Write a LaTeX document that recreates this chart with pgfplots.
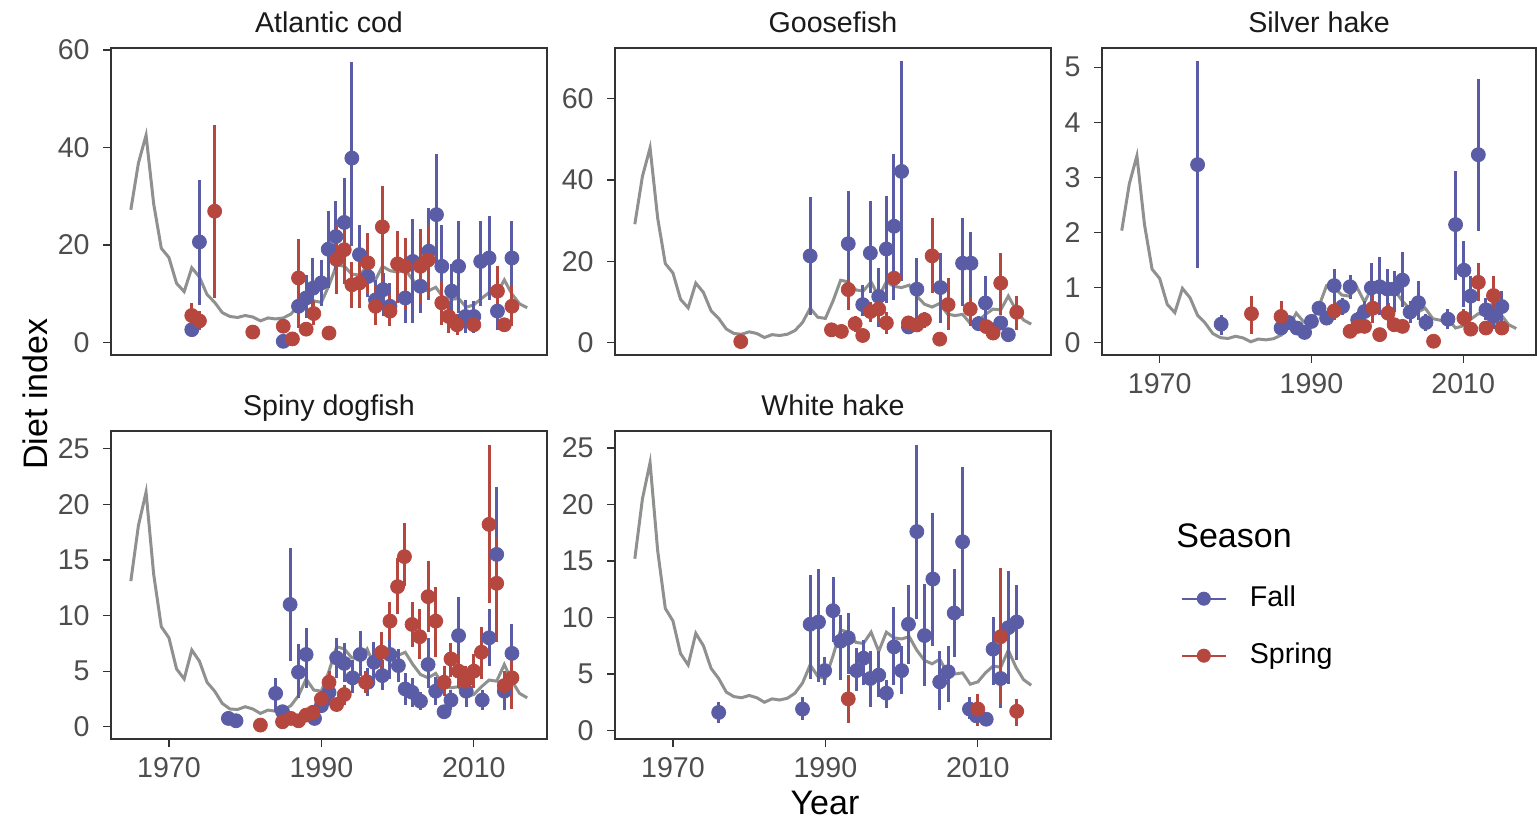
\documentclass[border=0pt]{standalone}
\usepackage{fontspec}
\setmainfont{Liberation Sans}
\usepackage{pgfplots}
\usepackage{pgfplotstable}
\pgfplotsset{compat=1.18}
\definecolor{blueC}{HTML}{5A5DA5}
\definecolor{redC}{HTML}{B5473F}
\definecolor{grayC}{HTML}{8E918E}
\definecolor{frameC}{HTML}{333333}
\definecolor{tickC}{HTML}{4D4D4D}
\definecolor{stripC}{HTML}{1A1A1A}

\pgfplotstableread{
year cod goose silver dog white
1965 27.2 29.1 2.03 13.1 15.2
1966 36.8 40.9 2.88 18.1 20.5
1967 42.5 47.9 3.39 21.1 23.7
1968 28.4 30.6 2.14 13.7 15.9
1969 19.3 19.4 1.33 9.0 10.8
1970 17.4 17.1 1.16 8.0 9.7
1971 12.1 10.6 0.69 5.2 6.8
1972 10.4 8.5 0.54 4.3 5.8
1973 15.3 14.6 0.98 6.9 8.6
1974 13.4 12.3 0.81 5.9 7.5
1975 9.8 7.8 0.49 4.0 5.5
1976 8.2 5.9 0.35 3.2 4.6
1977 6.1 3.3 0.16 2.1 3.4
1978 5.3 2.2 0.085 1.6 3.0
1979 5.1 2.0 0.07 1.55 2.9
1980 5.5 2.6 0.11 1.8 3.1
1981 5.2 2.2 0.08 1.6 2.9
1982 4.4 1.2 0.01 1.2 2.5
1983 5.0 1.9 0.06 1.5 2.8
1984 4.8 1.7 0.045 1.4 2.7
1985 5.0 2.0 0.065 1.5 2.85
1986 5.8 2.9 0.13 1.9 3.3
1987 7.5 4.9 0.28 2.8 4.2
1988 10.3 8.4 0.53 4.3 5.8
1989 8.5 6.2 0.37 3.3 4.8
1990 8.2 5.9 0.35 3.2 4.6
1991 11.7 10.2 0.66 5.0 6.6
1992 15.9 15.3 1.03 7.2 8.9
1993 15.6 14.9 1.00 7.0 8.7
1994 14.0 12.9 0.86 6.2 7.8
1995 13.8 12.7 0.84 6.1 7.7
1996 15.6 14.9 1.00 7.0 8.7
1997 12.5 11.2 0.73 5.4 7.0
1998 15.6 14.9 1.00 7.0 8.7
1999 14.7 13.8 0.92 6.6 8.2
2000 14.4 13.5 0.90 6.4 8.1
2001 14.9 14.1 0.94 6.7 8.3
2002 12.8 11.4 0.75 5.6 7.1
2003 11.1 9.4 0.60 4.7 6.2
2004 10.5 8.7 0.55 4.4 5.9
2005 11.3 9.6 0.62 4.8 6.3
2006 9.2 7.0 0.43 3.7 5.1
2007 8.8 6.6 0.40 3.5 5.0
2008 9.0 6.9 0.42 3.6 5.1
2009 7.2 4.7 0.26 2.7 4.1
2010 7.7 5.2 0.30 2.9 4.3
2011 9.0 6.9 0.42 3.6 5.1
2012 10.2 8.2 0.52 4.2 5.7
2013 9.9 8.0 0.50 4.1 5.6
2014 12.8 11.4 0.75 5.6 7.1
2015 9.9 8.0 0.50 4.1 5.6
2016 7.9 5.5 0.32 3.0 4.5
2017 7.1 4.5 0.25 2.6 4.0
}\lineTab

% ---------- Atlantic cod ----------
\pgfplotstableread{
x y lo hi
1973.0 2.6 1.5 3.5
1974.0 20.6 7.7 33.4
1985.0 0.2 0 0.5
1987.0 7.4 2.9 13.9
1988.0 9.1 5.0 13.9
1988.9 11.1 5.3 17.3
1990.0 12.2 7.4 16.9
1990.9 19.1 11.1 26.9
1991.9 21.7 14.9 29.0
1993.0 24.6 17.0 33.7
1994.0 37.8 19.7 57.6
1995.0 18.0 11.1 24.1
1996.1 13.5 9.4 18.3
1997.1 8.7 5.3 12.8
1998.1 10.8 5.3 14.2
1999.0 7.4 3.3 12.2
2001.0 9.1 4.0 14.2
2002.0 16.6 4.0 25.3
2003.0 11.5 6.0 16.5
2004.1 18.7 8.7 27.5
2005.1 26.2 15.6 38.7
2005.8 15.6 7.0 24.0
2007.1 10.5 5.0 16.0
2008.0 15.6 6.0 24.8
2008.9 5.3 1.9 8.7
2010.0 5.3 2.0 8.5
2010.9 16.6 7.4 24.8
2012.0 17.3 8.7 26.0
2013.1 6.4 2.6 9.8
2015.0 17.3 8.7 24.8
}\codF
\pgfplotstableread{
x y lo hi
1973.0 5.5 3.3 8.1
1974.0 4.4 2.5 6.5
1976.0 26.9 9.1 44.6
1981.0 2.1 1.5 2.7
1985.0 3.3 2.0 4.5
1986.2 0.7 0.2 1.2
1987.0 13.2 2.9 21.3
1988.0 2.7 1.8 3.6
1989.0 5.9 3.5 8.5
1991.0 1.9 1.2 2.6
1992.0 17.0 10.0 24.0
1993.0 19.0 12.0 26.0
1994.0 11.8 7.0 16.5
1995.0 12.2 7.0 17.5
1996.1 16.3 10.0 22.5
1997.1 7.4 3.5 11.5
1998.0 23.7 11.5 32.0
1999.0 6.4 3.5 10.0
2000.0 16.1 8.1 22.8
2001.0 15.6 6.7 21.4
2003.0 15.6 8.1 23.2
2004.0 16.9 9.0 24.0
2005.8 8.1 3.5 12.5
2006.7 5.3 2.0 8.5
2007.8 3.6 1.5 5.8
2010.0 3.6 2.2 5.0
2013.1 10.5 5.3 15.6
2014.0 3.6 2.2 5.0
2015.0 7.4 3.3 11.5
}\codS

% ---------- Goosefish ----------
\pgfplotstableread{
x y lo hi
1988.0 21.3 6.8 35.8
1993.0 24.3 11.3 37.2
1994.9 9.3 6.4 14.2
1995.9 22.0 12.2 34.7
1997.0 11.3 3.9 18.3
1998.0 23.0 9.7 36.0
1999.0 28.6 10.5 46.4
2000.0 42.1 15.0 69.2
2000.9 3.8 2.5 5.0
2002.0 13.1 5.6 20.8
2005.1 13.5 4.8 22.0
2008.0 19.5 8.9 30.6
2009.1 19.5 7.2 27.3
2010.1 4.6 3.0 6.5
2011.0 9.7 3.9 16.3
2012.0 3.1 2.0 4.5
2013.0 4.8 3.0 6.5
2014.0 1.9 1.0 2.8
}\gooseF
\pgfplotstableread{
x y lo hi
1978.9 0.2 0 0.5
1990.8 3.1 2.0 4.3
1992.1 2.7 1.5 3.9
1993.0 13.0 8.0 15.4
1993.9 4.6 2.5 6.5
1994.9 1.7 0.8 2.6
1995.9 7.6 5.0 10.0
1997.0 8.2 5.0 11.0
1998.0 4.8 2.0 7.5
1999.0 15.8 14.0 17.5
2000.9 4.8 3.0 6.5
2002.0 4.3 2.8 5.8
2003.0 5.6 3.5 7.5
2004.0 21.3 12.2 30.6
2005.0 0.8 0.3 1.3
2006.1 9.3 3.1 15.9
2009.0 8.2 4.0 11.3
2011.1 3.9 2.5 5.3
2012.0 2.3 1.5 3.2
2013.0 14.6 6.8 22.0
2015.1 7.4 3.1 11.4
}\gooseS

% ---------- Silver hake ----------
\pgfplotstableread{
x y lo hi
1975.0 3.23 1.36 5.11
1978.1 0.33 0.14 0.50
1986.0 0.26 0.18 0.34
1987.0 0.36 0.25 0.47
1988.1 0.26 0.18 0.34
1989.1 0.18 0.12 0.24
1990.0 0.38 0.28 0.48
1991.0 0.62 0.50 0.74
1992.0 0.44 0.32 0.56
1993.0 1.03 0.72 1.33
1994.1 0.65 0.50 0.80
1995.1 1.01 0.78 1.23
1996.1 0.41 0.28 0.55
1997.0 0.56 0.35 0.75
1997.9 0.99 0.59 1.44
1999.0 1.01 0.50 1.56
2000.0 0.97 0.53 1.33
2000.9 0.97 0.55 1.30
2002.0 1.13 0.65 1.64
2003.0 0.55 0.35 0.75
2004.1 0.72 0.41 1.11
2005.1 0.36 0.20 0.52
2008.0 0.42 0.25 0.60
2009.0 2.14 1.14 3.12
2010.1 1.31 0.65 1.85
2011.0 0.84 0.40 1.20
2012.0 3.41 2.03 4.79
2013.0 0.59 0.40 0.80
2014.0 0.47 0.25 0.75
2015.1 0.65 0.32 0.93
}\silverF
\pgfplotstableread{
x y lo hi
1982.1 0.52 0.15 0.85
1986.0 0.47 0.24 0.75
1993.0 0.57 0.40 0.75
1995.1 0.20 0.12 0.28
1996.1 0.29 0.18 0.40
1997.0 0.29 0.18 0.40
1998.1 0.62 0.35 0.90
1999.0 0.14 0.08 0.20
2000.1 0.53 0.35 0.72
2000.9 0.32 0.20 0.45
2002.0 0.29 0.18 0.40
2006.1 0.02 0.00 0.05
2010.1 0.44 0.30 0.60
2011.0 0.24 0.15 0.35
2012.0 1.09 0.75 1.45
2013.0 0.26 0.17 0.35
2014.0 0.85 0.47 1.20
2015.1 0.26 0.17 0.35
}\silverS

% ---------- Spiny dogfish ----------
\pgfplotstableread{
x y lo hi
1977.8 0.75 0.5 1.0
1978.8 0.54 0.3 0.8
1984.0 3.0 1.3 4.4
1984.9 1.35 0.8 1.9
1985.9 11.0 5.9 16.1
1987.0 4.9 2.6 7.4
1988.0 6.5 3.5 8.9
1989.1 0.75 0.4 1.1
1990.0 1.9 1.2 2.6
1991.0 3.1 2.0 4.2
1992.0 6.2 4.4 8.0
1993.0 5.7 4.0 7.5
1994.1 4.4 3.0 6.0
1995.1 6.5 4.6 8.6
1996.1 4.0 2.8 5.3
1996.9 5.8 4.0 7.6
1998.0 4.6 3.3 6.0
1999.0 6.5 4.3 9.0
2000.1 5.5 4.0 7.0
2001.0 3.4 2.0 4.8
2001.9 3.1 1.8 4.4
2003.0 2.3 1.5 3.1
2004.0 5.6 3.5 8.0
2005.0 3.2 2.0 4.5
2006.1 1.35 0.8 1.9
2007.0 2.4 1.5 3.3
2008.0 8.2 4.7 11.7
2009.0 3.2 1.8 4.6
2011.1 2.4 1.5 3.3
2012.0 8.0 5.5 10.6
2013.0 15.5 9.3 21.6
2014.0 3.2 1.5 4.9
2015.0 6.6 4.0 9.2
}\dogF
\pgfplotstableread{
x y lo hi
1982.0 0.15 0.05 0.3
1984.9 0.45 0.2 0.7
1986.0 0.75 0.4 1.1
1987.0 0.54 0.3 0.8
1988.0 1.05 0.6 1.5
1988.9 1.3 0.8 1.8
1990.0 2.5 1.8 3.2
1991.0 4.0 3.0 5.0
1992.0 2.0 1.4 2.6
1993.0 2.9 2.0 3.8
1995.8 4.0 3.0 5.0
1997.9 6.7 5.0 8.5
1999.0 9.5 7.9 11.2
2000.0 12.6 10.1 15.2
2000.9 15.3 12.7 18.3
2001.9 9.2 7.2 11.2
2002.9 8.1 6.1 10.6
2004.0 11.7 8.5 14.9
2005.0 9.5 6.3 12.6
2006.1 4.0 2.8 5.5
2007.0 6.1 4.5 7.5
2008.0 5.0 3.5 6.5
2008.9 4.1 3.0 5.5
2010.0 5.0 3.5 6.5
2011.0 6.7 4.3 9.0
2012.0 18.2 11.1 25.3
2013.0 12.9 7.6 17.0
2014.0 3.7 2.5 5.0
2015.0 4.4 1.6 7.3
}\dogS

% ---------- White hake ----------
\pgfplotstableread{
x y lo hi
1976.0 1.6 0.7 2.5
1987.0 1.9 0.9 3.0
1988.0 9.4 4.6 13.8
1989.1 9.6 4.3 14.3
1989.9 5.3 4.0 6.5
1991.0 10.6 7.8 13.6
1992.0 7.9 4.5 10.2
1993.0 8.2 5.0 10.4
1994.1 5.3 3.5 7.3
1995.0 6.4 4.0 8.0
1995.9 4.6 2.1 7.0
1997.0 4.9 3.0 7.0
1998.0 3.3 2.0 4.5
1999.0 7.4 4.0 10.9
2000.0 5.3 3.2 7.5
2000.9 9.4 5.9 12.9
2002.0 17.6 9.9 25.3
2003.0 8.4 3.9 13.0
2004.1 13.4 7.5 19.2
2005.0 4.3 1.8 7.0
2006.1 5.2 2.5 7.5
2006.9 10.4 6.5 14.3
2008.0 16.7 10.1 23.3
2008.9 1.9 1.0 3.0
2009.8 1.3 0.8 1.8
2011.1 1.0 0.6 1.4
2012.0 7.2 4.0 10.0
2013.0 4.6 2.0 7.0
2014.0 9.1 4.1 14.1
2015.1 9.6 6.2 12.9
}\whiteF
\pgfplotstableread{
x y lo hi
1993.0 2.8 0.7 4.9
2010.0 1.9 0.4 3.2
2013.0 8.3 2.4 14.4
2015.1 1.7 0.4 2.8
}\whiteS

\pgfplotsset{
  panel/.style={
    scale only axis, width=218pt, height=154pt,
    xmin=1962.4, xmax=2019.6,
    axis line style={draw=frameC, line width=0.65pt},
    tick align=outside, major tick length=4pt,
    tick style={draw=frameC, line width=0.65pt},
    tick label style={font=\fontsize{14.3}{16}\selectfont, text=tickC},
    /pgf/number format/assume math mode=true,
    /pgf/number format/set thousands separator={},
    xtick={1970,1990,2010},
    xtick pos=bottom, ytick pos=left,
    minor tick num=0,
    title style={at={(0.5,1)}, anchor=base, yshift=1.7pt, inner sep=0pt,
      font=\fontsize{14.3}{16}\selectfont, text=stripC},
    yticklabel style={anchor=east, inner sep=0pt, xshift=-6.5pt},
    xticklabel style={anchor=north, inner sep=0pt, yshift=-5pt},
  },
  noxt/.style={xtick=\empty},
  lineS/.style={color=grayC, line width=1.5pt, no markers},
  fallS/.style={only marks, mark=*, mark size=3.5pt, color=blueC,
    mark options={draw=none, fill=blueC},
    error bars/y dir=both, error bars/y explicit, error bars/error mark=none,
    error bars/error bar style={line width=1.5pt, color=blueC}},
  springS/.style={only marks, mark=*, mark size=3.5pt, color=redC,
    mark options={draw=none, fill=redC},
    error bars/y dir=both, error bars/y explicit, error bars/error mark=none,
    error bars/error bar style={line width=1.5pt, color=redC}},
  /pgfplots/table/errtab/.style={x=x, y=y, y error plus expr=\thisrow{hi}-\thisrow{y},
    y error minus expr=\thisrow{y}-\thisrow{lo}},
}

\begin{document}
\begin{tikzpicture}
\useasboundingbox (0,0) rectangle (768.5pt,411pt);

% Atlantic cod
\begin{axis}[panel, noxt, at={(55.5pt,233.5pt)}, anchor=south west, height=153.5pt,
  ymin=-2.6, ymax=60.4, ytick={0,20,40,60}, title={Atlantic cod}]
\addplot[lineS] table[x=year, y=cod] {\lineTab};
\addplot[fallS] table[errtab] {\codF};
\addplot[springS] table[errtab] {\codS};
\end{axis}

% Goosefish
\begin{axis}[panel, noxt, at={(307.5pt,233.5pt)}, anchor=south west, height=153.5pt,
  ymin=-3.1, ymax=72.5, ytick={0,20,40,60}, title={Goosefish}]
\addplot[lineS] table[x=year, y=goose] {\lineTab};
\addplot[fallS] table[errtab] {\gooseF};
\addplot[springS] table[errtab] {\gooseS};
\end{axis}

% Silver hake
\begin{axis}[panel, at={(551pt,233.5pt)}, anchor=south west, width=217pt, height=153.5pt,
  ymin=-0.23, ymax=5.35, ytick={0,1,2,3,4,5}, title={Silver hake}]
\addplot[lineS] table[x=year, y=silver] {\lineTab};
\addplot[fallS] table[errtab] {\silverF};
\addplot[springS] table[errtab] {\silverS};
\end{axis}

% Spiny dogfish
\begin{axis}[panel, at={(55.5pt,41.5pt)}, anchor=south west,
  ymin=-1.1, ymax=26.6, ytick={0,5,10,15,20,25}, title={Spiny dogfish}]
\addplot[lineS] table[x=year, y=dog] {\lineTab};
\addplot[fallS] table[errtab] {\dogF};
\addplot[springS] table[errtab] {\dogS};
\end{axis}

% White hake (+ legend)
\begin{axis}[panel, at={(307.5pt,41.5pt)}, anchor=south west,
  ymin=-0.75, ymax=26.5, ytick={0,5,10,15,20,25}, title={White hake},
  legend image code/.code={
    \draw[#1, line width=0.9pt] (0pt,0pt) -- (22pt,0pt);
    \fill[#1] (11pt,0pt) circle (3.3pt);
    \path[draw=none, fill=none] (0pt,-0.5pt) rectangle (34pt,0.5pt);
  },
  legend cell align=left,
  legend style={at={(1.298,0.363)}, anchor=west, draw=none, fill=none,
    inner sep=0pt, outer sep=0pt, row sep=15pt, column sep=0pt,
    font=\fontsize{14.3}{16}\selectfont,
    nodes={inner sep=0pt, text height=10.5pt, text depth=3pt}},
]
\addplot[lineS, forget plot] table[x=year, y=white] {\lineTab};
\addplot[fallS, forget plot] table[errtab] {\whiteF};
\addplot[springS, forget plot] table[errtab] {\whiteS};
\addlegendimage{blueC}
\addlegendentry{Fall}
\addlegendimage{redC}
\addlegendentry{Spring}
\end{axis}

\node[anchor=base west, inner sep=0pt, font=\fontsize{17}{20}\selectfont] at (588pt,137pt) {Season};
\node[anchor=base, inner sep=0pt, font=\fontsize{17}{20}\selectfont] at (412.5pt,3.5pt) {Year};
\node[rotate=90, anchor=base, inner sep=0pt, font=\fontsize{17}{20}\selectfont] at (23.5pt,214pt) {Diet index};
\end{tikzpicture}
\end{document}
